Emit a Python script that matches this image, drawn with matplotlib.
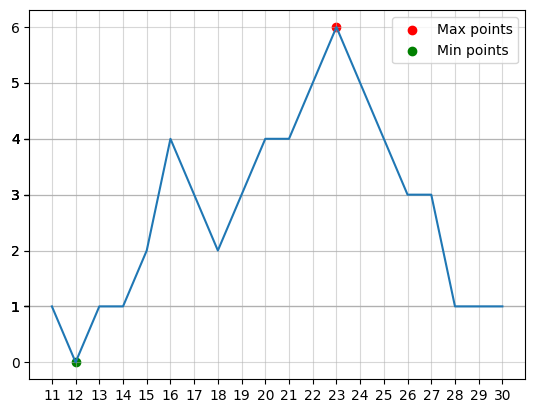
import matplotlib
matplotlib.use("Agg")
import matplotlib.pyplot as plt

x = list(range(11, 31))
y = [1, 0, 1, 1, 2, 4, 3, 2, 3, 4, 4, 5, 6, 5, 4, 3, 3, 1, 1, 1]

max_x = [23]
max_y = [6]
min_x = [12]
min_y = [0]

fig = plt.figure(figsize=(5.34, 4.13), dpi=100)
plt.subplots_adjust(left=0.055, right=0.983, top=0.975, bottom=0.0823)

plt.plot(x, y)
plt.scatter(max_x, max_y, color='red', label='Max points')
plt.scatter(min_x, min_y, color='green', label='Min points')

# ticks from the data itself (duplicates stack the grid lines)
plt.xticks(x)
plt.yticks(y)
plt.grid(alpha=0.5)
plt.legend()

plt.savefig("out.png", dpi=100)
